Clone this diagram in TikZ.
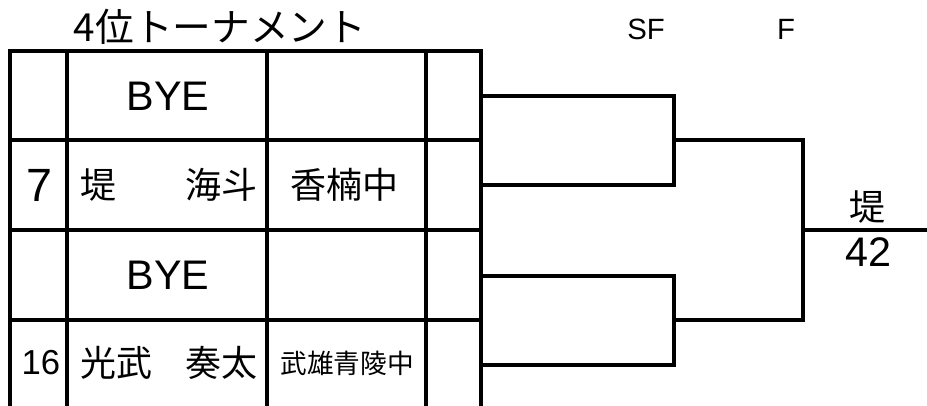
\documentclass[tikz,border=0pt]{standalone}
\usepackage{fontspec}
\setmainfont{Noto Sans CJK JP}
\newfontfamily\latinfont{Liberation Sans}
\usetikzlibrary{positioning}
\tikzset{
    tableline/.style={line width=2.7pt,line cap=rect},
    bracket/.style={line width=2.5pt,line join=miter},
    cell/.style={inner sep=0pt,font=\fontsize{27}{27}\selectfont},
    smallcell/.style={inner sep=0pt,font=\fontsize{20}{20}\selectfont},
    namecell/.style={cell,text width=132.75pt,anchor=west},
    latin/.style={inner sep=0pt,font=\latinfont\fontsize{31}{31}\selectfont},
    roundlabel/.style={inner sep=0pt,font=\latinfont\fontsize{22}{22}\selectfont},
}

\begin{document}
\begin{tikzpicture}[x=0.75pt,y=-0.75pt]
            \useasboundingbox (0,0) rectangle (927,405);
            % table
            \draw[tableline] (10,405) -- (10,51) -- (481,51) -- (481,405);
            \draw[tableline] (67,51) -- (67,405);
            \draw[tableline] (267,51) -- (267,405);
            \draw[tableline] (426,51) -- (426,405);
            \draw[tableline] (10,140) -- (481,140);
            \draw[tableline] (10,230) -- (481,230);
            \draw[tableline] (10,320) -- (481,320);
            % headers
            \node[cell,font=\fontsize{29}{29}\selectfont] (title) at (220,27) {4位トーナメント};
            \node[roundlabel] (sf) at (646,29) {SF};
            \node[roundlabel] (f) at (786,29) {F};
            % entries
            \node[latin] (bye1) at (168,96) {BYE};
            \node[latin,font=\latinfont\fontsize{35}{35}\selectfont] (n7) at (39,185) {7};
            \node[namecell] (p7) at (80,185) {堤\hfill 海斗};
            \node[cell] (s7) at (344,185) {香楠中};
            \node[latin] (bye2) at (168,275) {BYE};
            \node[latin,font=\latinfont\fontsize{26}{26}\selectfont] (n16) at (41,363) {16};
            \node[namecell] (p16) at (80,363) {光武\hfill 奏太};
            \node[smallcell] (s16) at (347,363) {武雄青陵中};
            % bracket points
            \coordinate (a1) at (481,96);
            \coordinate (a2) at (481,185);
            \coordinate (a3) at (481,276);
            \coordinate (a4) at (481,365);
            \coordinate (sf1) at (674,140);
            \coordinate (sf2) at (674,320);
            \coordinate (fin) at (803,230);
            \coordinate (win) at (927,230);
            \draw[bracket] (a1) -| (sf1) |- (a2);
            \draw[bracket] (a3) -| (sf2) |- (a4);
            \draw[bracket] (sf1) -| (fin) |- (sf2);
            \draw[bracket] (fin) -- (win);
            \node[cell] (winner) at (867,207) {堤};
            \node[latin] (score) at (868,252) {42};
        \end{tikzpicture}
\end{document}
